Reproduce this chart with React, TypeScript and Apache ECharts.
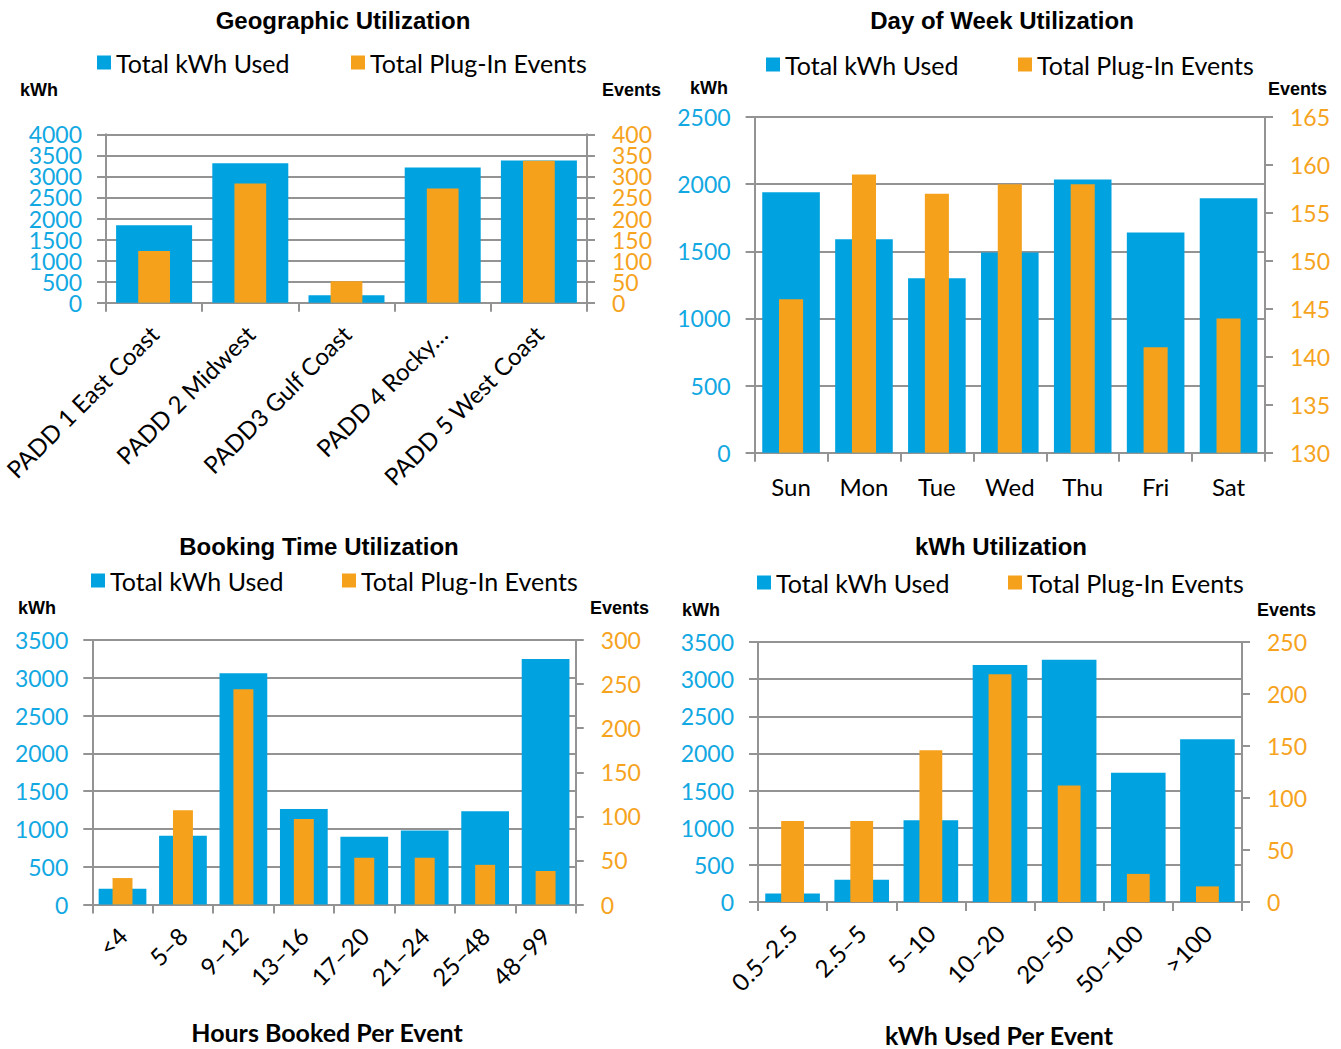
import React, { useEffect, useRef } from 'react';
import * as echarts from 'echarts';

// ---------------- DATA ----------------
const geoCategories = ['PADD 1 East Coast', 'PADD 2 Midwest', 'PADD3 Gulf Coast', 'PADD 4 Rocky…', 'PADD 5 West Coast'];
const geoKwh = [1840, 3310, 175, 3210, 3380];
const geoEvents = [123, 283, 51, 271, 337];

const dayCategories = ['Sun', 'Mon', 'Tue', 'Wed', 'Thu', 'Fri', 'Sat'];
const dayKwh = [1940, 1590, 1300, 1490, 2035, 1640, 1895];
const dayEvents = [146, 159, 157, 158, 158, 141, 144];

const bookCategories = ['<4', '5–8', '9–12', '13–16', '17–20', '21–24', '25–48', '48–99'];
const bookKwh = [210, 910, 3060, 1265, 895, 978, 1234, 3250];
const bookEvents = [30, 107, 244, 97, 53, 53, 45, 38];

const kwhCategories = ['0.5–2.5', '2.5–5', '5–10', '10–20', '20–50', '50–100', '>100'];
const kwhKwh = [115, 300, 1100, 3190, 3260, 1740, 2190];
const kwhEvents = [78, 78, 146, 219, 112, 27, 15];

const titles = ['Geographic Utilization', 'Day of Week Utilization', 'Booking Time Utilization', 'kWh Utilization'];
const kwhName = 'Total kWh Used';
const eventsName = 'Total Plug-In Events';

// ---------------- STYLE ----------------
const BLUE = '#00A3E0';
const ORANGE = '#F5A11C';
const BLUE_TXT = '#12A8E2';
const ORANGE_TXT = '#F6A31E';
const GRAY = '#939393';
const FONT = 'Lato';
const TITLE_FONT = 'bold 24px "Liberation Sans"';
const UNIT_FONT = 'bold 18px "Liberation Sans"';

type Panel = {
  cats: string[];
  kwh: number[];
  ev: number[];
  grid: { left: number; top: number; width: number; height: number };
  kMax: number;
  eMin: number;
  eMax: number;
  eInt: number;
  rotate: number;
  labelMargin: number;
  dense: boolean;
  title: [number, number];
  legendBlue: [number, number];
  legendOrange: [number, number];
  kwhLabel: [number, number];
  eventsLabel: [number, number];
  xName?: [string, number, number];
};

const panels: Panel[] = [
  {
    cats: geoCategories, kwh: geoKwh, ev: geoEvents,
    grid: { left: 106, top: 134.3, width: 481, height: 168.4 },
    kMax: 4000, eMin: 0, eMax: 400, eInt: 50, rotate: 45, labelMargin: 27, dense: true,
    title: [343, 20], legendBlue: [97, 63], legendOrange: [351, 63],
    kwhLabel: [20, 90], eventsLabel: [602, 90],
  },
  {
    cats: dayCategories, kwh: dayKwh, ev: dayEvents,
    grid: { left: 754.6, top: 117, width: 510.4, height: 335.7 },
    kMax: 2500, eMin: 130, eMax: 165, eInt: 5, rotate: 0, labelMargin: 22, dense: false,
    title: [1002, 20], legendBlue: [766, 65], legendOrange: [1018, 65],
    kwhLabel: [690, 88], eventsLabel: [1268, 89],
  },
  {
    cats: bookCategories, kwh: bookKwh, ev: bookEvents,
    grid: { left: 92.3, top: 640, width: 483.5, height: 264.5 },
    kMax: 3500, eMin: 0, eMax: 300, eInt: 50, rotate: 45, labelMargin: 27, dense: false,
    title: [319, 546], legendBlue: [91, 581], legendOrange: [342, 581],
    kwhLabel: [18, 608], eventsLabel: [590, 608],
    xName: ['Hours Booked Per Event', 327, 1032],
  },
  {
    cats: kwhCategories, kwh: kwhKwh, ev: kwhEvents,
    grid: { left: 758, top: 642, width: 484, height: 260 },
    kMax: 3500, eMin: 0, eMax: 250, eInt: 50, rotate: 45, labelMargin: 27, dense: false,
    title: [1001, 546], legendBlue: [757, 583], legendOrange: [1008, 583],
    kwhLabel: [682, 610], eventsLabel: [1257, 610],
    xName: ['kWh Used Per Event', 999, 1035],
  },
];

function buildOption() {
  const grid: any[] = [];
  const xAxis: any[] = [];
  const yAxis: any[] = [];
  const series: any[] = [];
  const legend: any[] = [];
  const graphic: any[] = [];
  const lineStyle = { color: GRAY, width: 2 };

  const valueAxis = (
    i: number, position: 'left' | 'right', min: number, max: number, interval: number,
    color: string, margin: number, tickLen: number, split: boolean,
    formatter: (v: number) => string, showMin: boolean, showMax: boolean, showLine: boolean,
  ) => ({
    type: 'value', gridIndex: i, position, min, max, interval,
    axisLine: { show: showLine, lineStyle },
    axisTick: { show: true, length: tickLen, lineStyle },
    splitLine: { show: split, lineStyle },
    axisLabel: {
      color, fontSize: 23, fontFamily: FONT, margin,
      formatter, showMinLabel: showMin, showMaxLabel: showMax, hideOverlap: false,
    },
  });

  panels.forEach((p, i) => {
    grid.push({ ...p.grid, containLabel: false, outerBoundsMode: 'none' });
    const xMain = xAxis.length;
    xAxis.push({
      type: 'category', gridIndex: i, data: p.cats,
      axisLine: { show: true, onZero: false, lineStyle },
      axisTick: { show: true, length: 9, lineStyle },
      axisLabel: {
        interval: 0, rotate: p.rotate, margin: p.labelMargin,
        color: '#000', fontSize: 24, fontFamily: FONT,
      },
      splitLine: { show: false },
    });
    const xHidden = xAxis.length;
    xAxis.push({ type: 'category', gridIndex: i, data: p.cats, show: false });

    const yLeft = yAxis.length;
    const yRight = yLeft + 1;
    if (!p.dense) {
      yAxis.push(valueAxis(i, 'left', 0, p.kMax, 500, BLUE_TXT, 24, 9, true, (v) => String(v), true, true, true));
      yAxis.push(valueAxis(i, 'right', p.eMin, p.eMax, p.eInt, ORANGE_TXT, 25, 8, false, (v) => String(v), true, true, true));
    } else {
      // tightly packed labels: split even / odd ticks over two coincident axes
      yAxis.push(valueAxis(i, 'left', 0, p.kMax, 500, BLUE_TXT, 24, 9, true,
        (v) => (v % 1000 === 0 ? String(v) : ''), true, true, true));
      yAxis.push(valueAxis(i, 'right', p.eMin, p.eMax, p.eInt, ORANGE_TXT, 25, 8, false,
        (v) => (v % 100 === 0 ? String(v) : ''), true, true, true));
      yAxis.push(valueAxis(i, 'left', 0, p.kMax, 500, BLUE_TXT, 24, 9, false,
        (v) => (v % 1000 !== 0 ? String(v) : ''), false, false, false));
      yAxis.push(valueAxis(i, 'right', p.eMin, p.eMax, p.eInt, ORANGE_TXT, 25, 8, false,
        (v) => (v % 100 !== 0 ? String(v) : ''), false, false, false));
    }

    series.push({
      type: 'bar', name: kwhName, xAxisIndex: xMain, yAxisIndex: yLeft,
      data: p.kwh, barWidth: '79%', itemStyle: { color: BLUE }, z: 2,
    });
    series.push({
      type: 'bar', name: eventsName, xAxisIndex: xHidden, yAxisIndex: yRight,
      data: p.ev, barWidth: '33%', itemStyle: { color: ORANGE }, z: 3,
    });
    const lg = (name: string, pos: [number, number]) => ({
      data: [name], left: pos[0], top: pos[1] - 13, padding: 0,
      itemWidth: 14, itemHeight: 14, icon: 'rect', selectedMode: false,
      textStyle: { fontSize: 25, fontFamily: FONT, color: '#000' },
    });
    legend.push(lg(kwhName, p.legendBlue));
    legend.push(lg(eventsName, p.legendOrange));

    graphic.push({
      type: 'text', x: p.title[0], y: p.title[1],
      style: { text: titles[i], font: TITLE_FONT, fill: '#000', textAlign: 'center', textVerticalAlign: 'middle' },
    });
    graphic.push({
      type: 'text', x: p.kwhLabel[0], y: p.kwhLabel[1],
      style: { text: 'kWh', font: UNIT_FONT, fill: '#000', textAlign: 'left', textVerticalAlign: 'middle' },
    });
    graphic.push({
      type: 'text', x: p.eventsLabel[0], y: p.eventsLabel[1],
      style: { text: 'Events', font: UNIT_FONT, fill: '#000', textAlign: 'left', textVerticalAlign: 'middle' },
    });
    if (p.xName) {
      graphic.push({
        type: 'text', x: p.xName[1], y: p.xName[2],
        style: { text: p.xName[0], font: `bold 25px ${FONT}`, fill: '#000', textAlign: 'center', textVerticalAlign: 'middle' },
      });
    }
  });

  return { animation: false, backgroundColor: '#fff', grid, xAxis, yAxis, series, legend, graphic };
}

export default function App() {
  const ref = useRef<HTMLDivElement>(null);
  useEffect(() => {
    if (!ref.current) return;
    const chart = echarts.init(ref.current, undefined, { renderer: 'svg' });
    chart.setOption(buildOption() as any);
    return () => chart.dispose();
  }, []);
  return (
    <div
      ref={ref}
      style={{ position: 'fixed', left: 0, top: 0, width: 1341, height: 1049, background: '#fff' }}
    />
  );
}
